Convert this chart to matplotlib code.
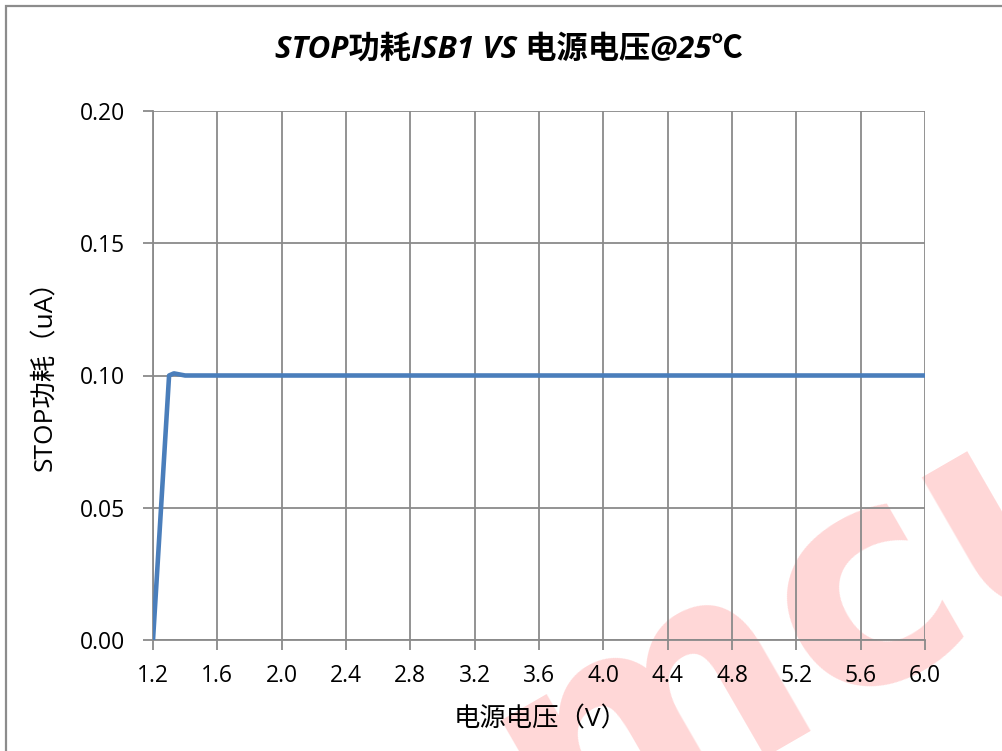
import matplotlib
matplotlib.use("Agg")
import matplotlib.pyplot as plt
from matplotlib.patches import Rectangle

# ---- data ----
voltage = [1.2, 1.3, 1.33, 1.4, 1.6, 2.0, 2.4, 2.8, 3.2, 3.6, 4.0, 4.4, 4.8, 5.2, 5.6, 6.0]
current = [0.0, 0.1, 0.1008, 0.1, 0.1, 0.1, 0.1, 0.1, 0.1, 0.1, 0.1, 0.1, 0.1, 0.1, 0.1, 0.1]
x_ticks = [1.2, 1.6, 2.0, 2.4, 2.8, 3.2, 3.6, 4.0, 4.4, 4.8, 5.2, 5.6, 6.0]
y_ticks = [0.00, 0.05, 0.10, 0.15, 0.20]
title = "STOP功耗ISB1 VS 电源电压@25℃"
x_label = "电源电压（V）"
y_label = "STOP功耗（uA）"

plt.rcParams['font.family'] = ['Open Sans', 'Noto Sans CJK SC', 'DejaVu Sans']

W, H = 1003, 751
fig = plt.figure(figsize=(W / 100, H / 100), dpi=100)
fig.patch.set_facecolor('white')

# watermark
fig.text(0.818, 0.18, "mcu", rotation=30, fontsize=215, fontweight='bold',
         family=['DejaVu Sans'], color='red', alpha=0.16, ha='center', va='center', zorder=-5)

# outer border
fig.patches.append(Rectangle((6.5 / W, -0.05), 1.2, 1 - 5.5 / H + 0.05, transform=fig.transFigure,
                             fill=False, edgecolor='#8c8c8c', linewidth=1.6, zorder=10))

ax = fig.add_axes([153 / W, 1 - 640 / H, (925 - 153) / W, (640 - 111) / H])
ax.set_facecolor('none')
ax.plot(voltage, current, color='#4a7ebb', linewidth=3.3, solid_joinstyle='round',
        solid_capstyle='butt', zorder=3)

ax.set_xlim(1.2, 6.0)
ax.set_ylim(0, 0.2)
ax.set_xticks(x_ticks)
ax.set_xticklabels([f"{v:.1f}" for v in x_ticks])
ax.set_yticks(y_ticks)
ax.set_yticklabels([f"{v:.2f}" for v in y_ticks])
ax.grid(True, color='#8a8a8a', linewidth=1.3, zorder=1)
ax.set_axisbelow(True)
for s in ['top', 'right']:
    ax.spines[s].set_visible(False)
for s in ['left', 'bottom']:
    ax.spines[s].set_color('#8a8a8a')
    ax.spines[s].set_linewidth(1.3)
ax.tick_params(axis='both', direction='out', length=7, width=1.3, color='#8a8a8a',
               labelsize=16.5, labelcolor='black')
ax.tick_params(axis='x', pad=10)
ax.tick_params(axis='y', pad=13)

fig.text(509 / W, 1 - 50 / H, title, ha='center', va='center',
         fontsize=22.5, fontweight='bold', style='italic')
fig.text(541 / W, 1 - 720 / H, x_label, ha='center', va='center', fontsize=19)
fig.text(46 / W, 1 - 369 / H, y_label, ha='center', va='center', fontsize=19, rotation=90)

fig.savefig("out.png", dpi=100, facecolor='white')
